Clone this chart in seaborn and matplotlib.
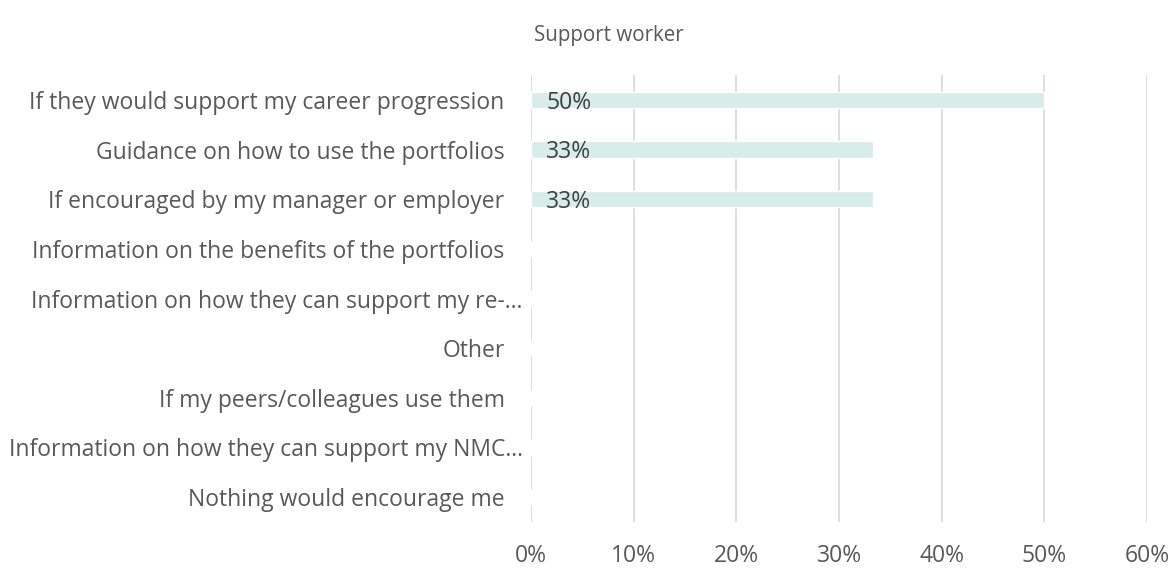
import matplotlib
matplotlib.use("Agg")
import matplotlib.pyplot as plt
import matplotlib.transforms as mtransforms
import seaborn as sns
import pandas as pd

categories = [
    "If they would support my career progression",
    "Guidance on how to use the portfolios",
    "If encouraged by my manager or employer",
    "Information on the benefits of the portfolios",
    "Information on how they can support my re-\u2026",
    "Other",
    "If my peers/colleagues use them",
    "Information on how they can support my NMC\u2026",
    "Nothing would encourage me",
]
values = [50.0, 33.3, 33.3, 0, 0, 0, 0, 0, 0]
value_labels = ["50%", "33%", "33%", "", "", "", "", "", ""]
x_ticks = [0, 10, 20, 30, 40, 50, 60]
title = "Support worker"

sns.set_theme(style="white")
plt.rcParams["font.family"] = ["Open Sans", "DejaVu Sans"]

df = pd.DataFrame({"category": categories, "value": values})

fig = plt.figure(figsize=(11.73, 5.68), dpi=100)
ax = fig.add_axes([531 / 1173, 1 - 522 / 568, 616 / 1173, 447 / 568])

sns.barplot(data=df, x="value", y="category", orient="h", color="#d8ecea",
            saturation=1, width=0.33, ax=ax, order=categories)

ax.set_xlim(0, 60)
ax.set_xticks(x_ticks)
ax.set_xticklabels([f"{t}%" for t in x_ticks])
ax.grid(axis="x", color="#d9d9d9", linewidth=1.2)
ax.set_axisbelow(True)
for s in ax.spines.values():
    s.set_visible(False)
ax.set_xlabel("")
ax.set_ylabel("")
ax.tick_params(axis="y", length=0, pad=19, labelsize=16.5, labelcolor="#595959")
ax.tick_params(axis="x", length=0, pad=16, labelsize=16.5, labelcolor="#595959")

# truncated category names run a little closer to the axis
shift = mtransforms.ScaledTranslation(18 / 100, 0, fig.dpi_scale_trans)
for lbl in ax.get_yticklabels():
    if lbl.get_text().endswith("\u2026"):
        lbl.set_transform(lbl.get_transform() + shift)

for i, (v, lab) in enumerate(zip(values, value_labels)):
    if lab:
        ax.text(1.5, i + 0.06, lab, va="center", ha="left", fontsize=16.5,
                color="#404040")

fig.text(609 / 1173, 1 - 35 / 568, title, ha="center", va="center",
         fontsize=14.8, color="#595959")

fig.savefig("out.png", dpi=100)
